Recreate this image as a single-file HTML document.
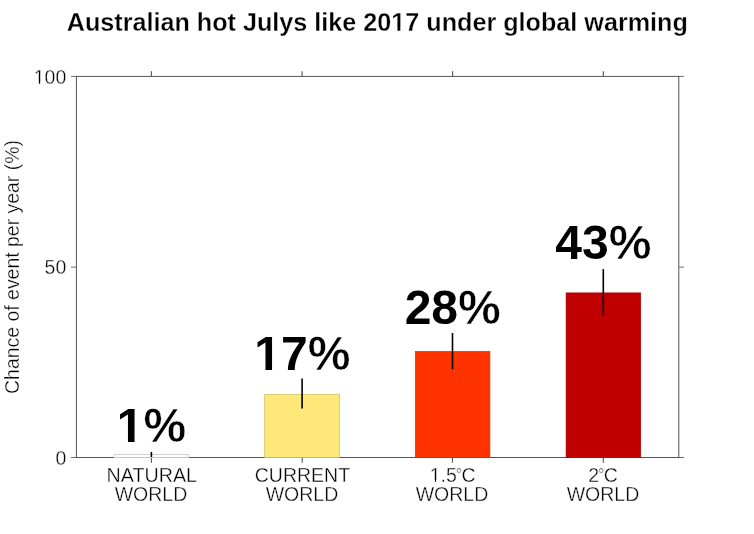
<!DOCTYPE html>
<html>
<head>
<meta charset="utf-8">
<title>Australian hot Julys like 2017 under global warming</title>
<style>
html,body{margin:0;padding:0;background:#fff;}
body{width:754px;height:534px;overflow:hidden;}
svg{display:block;font-family:"Liberation Sans",Arial,Helvetica,sans-serif;}
.title{font-weight:bold;font-size:25.18px;fill:#000;stroke:#fff;stroke-width:.3px;}
.lt{font-size:19.5px;fill:#000;stroke:#fff;stroke-width:.35px;}
.yl{font-size:20.2px;}
.deg{font-size:16px;stroke-width:.4px;}
.big{font-weight:bold;font-size:48px;fill:#000;}
.ax{stroke:#555;stroke-width:1;fill:none;}
.tk{stroke:#555;stroke-width:.85;fill:none;}
.pct{stroke:#fff;stroke-width:.5px;}
.tkb{stroke:#555;stroke-width:1.1;fill:none;}
.eb{stroke:#000;stroke-width:1.6;fill:none;}
</style>
</head>
<body>
<svg width="754" height="534" viewBox="0 0 754 534">
<rect width="754" height="534" fill="#fff"/>
<text class="title" x="377.3" y="31" text-anchor="middle">Australian hot Julys like 2017 under global warming</text>

<!-- axes box -->
<rect class="ax" x="76.4" y="76.4" width="602.4" height="381.1"/>

<!-- ticks -->
<g class="tk">
<path d="M76.4 76.4H71M76.4 267.1H71M76.4 457.5H71"/>
<path d="M678.8 76.4H684M678.8 267.1H684M678.8 457.5H684"/>
</g>
<path class="tkb" d="M151.4 76.4V71.2M302.1 76.4V71.2M452.6 76.4V71.2M603.3 76.4V71.2"/>
<path class="tkb" d="M151.4 457.5V462.7M302.2 457.5V462.7M452.5 457.5V462.7M603.3 457.5V462.7"/>

<!-- bars -->
<rect x="114.1" y="454.6" width="74.6" height="3" fill="#fff" stroke="#c8c8c8" stroke-width=".8"/>
<rect x="264.7" y="394.3" width="74.6" height="63.3" fill="#ffe87a" stroke="#cdb95e" stroke-width=".7"/>
<rect x="415.3" y="351.5" width="74.6" height="106.1" fill="#ff3300" stroke="#e02a00" stroke-width=".7"/>
<rect x="566.1" y="292.9" width="74.6" height="164.7" fill="#c00000" stroke="#a80000" stroke-width=".7"/>

<!-- error bars -->
<g class="eb">
<path d="M151.4 451.9V457"/>
<path d="M302.1 378.4V408.6"/>
<path d="M452.5 333V369.2"/>
<path d="M603.3 269.1V315.9"/>
</g>

<!-- y tick labels -->
<g class="lt" text-anchor="end">
<text x="66.3" y="83.5">100</text>
<text x="66.3" y="274">50</text>
<text x="66.3" y="464.6">0</text>
</g>

<!-- y label -->
<text class="lt yl" text-anchor="middle" transform="translate(19.3 267) rotate(-90) scale(.963 1)">Chance of event per year (%)</text>

<!-- x tick labels -->
<g class="lt" text-anchor="middle">
<text x="151.8" y="481.5" style="font-size:19.7px">NATURAL</text>
<text x="151" y="501">WORLD</text>
<text x="302.4" y="481.5">CURRENT</text>
<text x="302" y="501">WORLD</text>
<text text-anchor="start"><tspan x="429.7" y="481.5">1.5</tspan><tspan class="deg" x="455.7" y="480">°</tspan><tspan x="461.5" y="481.5">C</tspan></text>
<text x="452" y="501">WORLD</text>
<text text-anchor="start"><tspan x="588.2" y="481.5">2</tspan><tspan class="deg" x="598.0" y="480">°</tspan><tspan x="603.8" y="481.5">C</tspan></text>
<text x="603" y="501">WORLD</text>
</g>

<!-- big value labels -->
<g class="big" text-anchor="middle">
<text x="151.4" y="442">1<tspan class="pct">%</tspan></text>
<text x="302.3" y="370">17<tspan class="pct">%</tspan></text>
<text x="452.7" y="324">28<tspan class="pct">%</tspan></text>
<text x="603.3" y="259">43<tspan class="pct">%</tspan></text>
</g>

<!-- trim the foot serif of the digit 1 so it reads like the Helvetica 1 -->
<g fill="#fff">
<rect x="391.4" y="28" width="6.03" height="3.6"/><rect x="400.36" y="28" width="5.3" height="3.6"/>
<rect x="117" y="436.5" width="10.95" height="6"/><rect x="134.54" y="436.5" width="9.5" height="6"/>
<rect x="255" y="364.5" width="10.46" height="6"/><rect x="272.05" y="364.5" width="9" height="6"/>
<rect x="33.5" y="82" width="5.3" height="2.6"/><rect x="40.22" y="82" width="4.4" height="2.6"/>
<rect x="429.5" y="480" width="5.3" height="2.6"/><rect x="436.22" y="480" width="4.6" height="2.6"/>
</g>
</svg>
</body>
</html>
